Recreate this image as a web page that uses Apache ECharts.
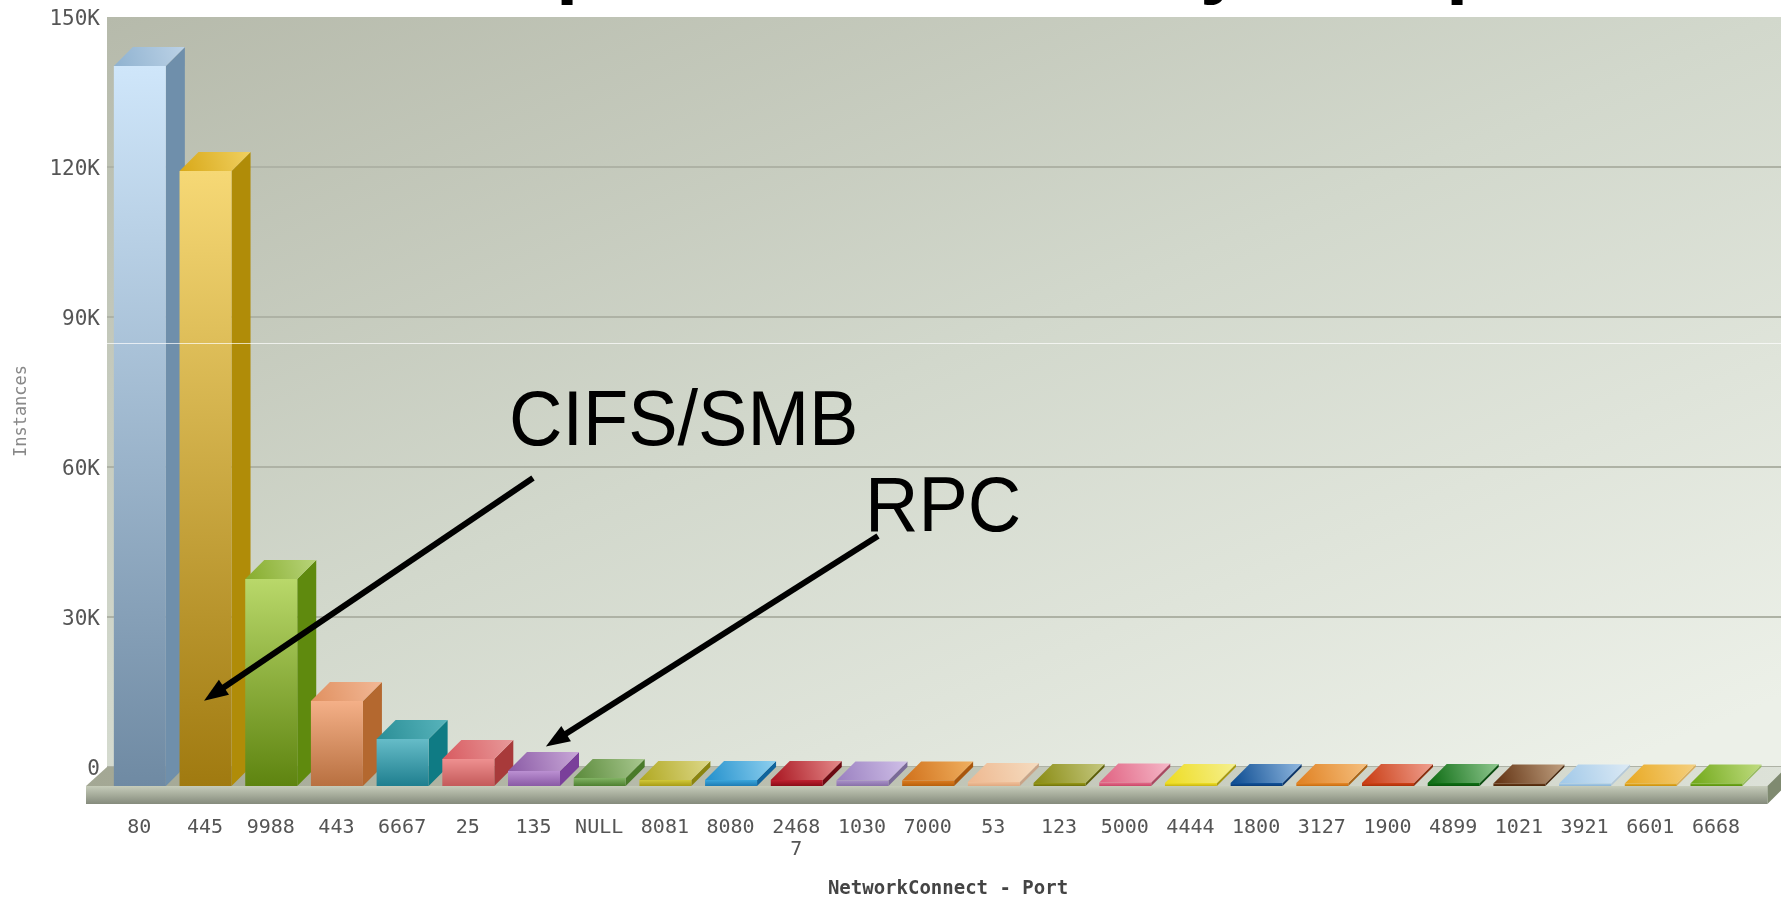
<!DOCTYPE html>
<html>
<head>
<meta charset="utf-8">
<title>NetworkConnect - Port</title>
<script src="https://cdn.jsdelivr.net/npm/echarts@6/dist/echarts.min.js"></script>
<style>
  html, body { margin: 0; padding: 0; background: #ffffff; }
  #chart { width: 1781px; height: 898px; }
</style>
</head>
<body>
<div id="chart"></div>
<script>
// data
const ports = ['80', '445', '9988', '443', '6667', '25', '135', 'NULL', '8081', '8080', '24687', '1030', '7000',
  '53', '123', '5000', '4444', '1800', '3127', '1900', '4899', '1021', '3921', '6601', '6668']
const instances = [144000, 123000, 41400, 17000, 9400, 5400, 3000, 1600, 1200, 1200, 1200, 1100, 1100,
  800, 600, 700, 600, 600, 600, 600, 600, 500, 500, 500, 500]
const yTickStep = 30000
const yMax = 150000

// colours per bar: front top, front bottom, side, roof dark, roof light
const frontTop = ['#cfe6fa', '#f6d875', '#b9d86a', '#f4b088', '#66bcc8', '#ee9090', '#bb90d2', '#82b464', '#d2c838',
  '#3aa6dc', '#c02030', '#a890c8', '#dc7c20', '#f0c09a', '#989a18', '#e86c8c', '#f0e028', '#14559c', '#e68a2a',
  '#d04418', '#107416', '#6c3a16', '#a8cdea', '#eab02a', '#78b020']
const frontBottom = ['#6f8aa3', '#a07a10', '#5e8410', '#b87040', '#1f7f8f', '#c45a5a', '#8a5aa5', '#4e8030', '#a89c14',
  '#1c7cb4', '#8c0c18', '#8870a8', '#b8600c', '#e0a880', '#70720a', '#c84868', '#c8b410', '#0a3c78', '#c86c10',
  '#ac300a', '#08560c', '#4c280c', '#8cb4d4', '#c89010', '#5a9010']
const sideColor = ['#6f8fab', '#b08c08', '#5f8a0e', '#b4682f', '#0f7b84', '#a83a3a', '#7a3f9a', '#4a7a2a', '#8a8410',
  '#10649c', '#6c0a12', '#7a6a98', '#a8560c', '#c8a488', '#5c5e08', '#a84860', '#a89a10', '#0a3468', '#a86418',
  '#8c3010', '#0a4c10', '#4a2a10', '#b4c8d8', '#d8b060', '#98bc60']
const roofDark = ['#8fb2d0', '#d8a818', '#86ac2c', '#e09060', '#2a8e96', '#d85a60', '#8a5aa5', '#5a8a3a', '#b0a820',
  '#2290cc', '#a8141f', '#9a80c0', '#d0701a', '#eeb890', '#888a10', '#e06080', '#eedc20', '#0a4a90', '#e08020',
  '#c83a10', '#0a6a10', '#603010', '#a0c8e8', '#e8a820', '#70a818']
const roofLight = ['#bcd2e6', '#f0d060', '#b8d47a', '#f2b896', '#58b4bc', '#e89a9a', '#c9a8d8', '#a9c890', '#ddd88a',
  '#8fd0ef', '#e58a8a', '#d0c0e8', '#f0b060', '#f5dcc0', '#c5c880', '#f5b8c8', '#f5f090', '#90b8e0', '#f5c080',
  '#f0a090', '#90c890', '#c0a080', '#dceaf5', '#f5d080', '#c0dc80']

const BAR_W = 52
const DEPTH = 19

const vGrad = (a, b) => new echarts.graphic.LinearGradient(0, 0, 0, 1, [
  { offset: 0, color: a },
  { offset: 1, color: b }
])

// 3d box: the axis is the back wall, the front face sits DEPTH lower and to the left
const renderBar = (params, api) => {
  const i = api.value(0)
  const base = api.coord([i, 0])
  const top = api.coord([i, api.value(1)])
  const x0 = base[0] - BAR_W / 2
  const x1 = x0 + BAR_W
  const yb = base[1] + DEPTH
  const yt = top[1] + DEPTH
  return {
    type: 'group',
    children: [
      {
        type: 'polygon',
        shape: { points: [[x1, yb], [x1 + DEPTH, yb - DEPTH], [x1 + DEPTH, yt - DEPTH], [x1, yt]] },
        style: { fill: sideColor[i] }
      },
      {
        type: 'polygon',
        shape: { points: [[x0, yt], [x1, yt], [x1 + DEPTH, yt - DEPTH], [x0 + DEPTH, yt - DEPTH]] },
        style: {
          fill: new echarts.graphic.LinearGradient(0, 1, 1, 0, [
            { offset: 0, color: roofDark[i] },
            { offset: 1, color: roofLight[i] }
          ])
        }
      },
      {
        type: 'rect',
        shape: { x: x0, y: yt, width: BAR_W, height: yb - yt },
        style: { fill: vGrad(frontTop[i], frontBottom[i]) }
      }
    ]
  }
}

// platform under the bars
const renderFloor = (params, api) => {
  const first = api.coord([0, 0])
  const last = api.coord([ports.length - 1, 0])
  const wallX = params.coordSys.x
  const y = first[1]
  const right = last[0] + 51
  const h = 18
  return {
    type: 'group',
    children: [
      {
        type: 'polygon',
        shape: { points: [[wallX - 21, y + DEPTH], [wallX, y], [right + 19, y], [right, y + DEPTH]] },
        style: {
          fill: new echarts.graphic.LinearGradient(0, 0, 1, 0, [
            { offset: 0, color: '#a3a794' },
            { offset: 1, color: '#dde2d8' }
          ])
        }
      },
      {
        type: 'rect',
        shape: { x: wallX - 21, y: y + DEPTH, width: right - wallX + 21, height: h },
        style: { fill: vGrad('#c6ccba', '#858b7c') }
      },
      {
        type: 'polygon',
        shape: { points: [[right, y + DEPTH], [right + 19, y], [right + 19, y + h], [right, y + DEPTH + h]] },
        style: { fill: '#7f8a70' }
      }
    ]
  }
}

const chart = echarts.init(document.getElementById('chart'))

const option = {
  backgroundColor: '#ffffff',
  animation: false,
  grid: {
    show: true,
    left: 107,
    top: 17,
    width: 1708,
    height: 750,
    borderWidth: 0,
    outerBoundsMode: 'none',
    backgroundColor: new echarts.graphic.LinearGradient(0, 0, 0.28, 1.56, [
      { offset: 0, color: '#b6baab' },
      { offset: 0.5, color: '#d2d8cc' },
      { offset: 1, color: '#ecf0e8' }
    ])
  },
  xAxis: {
    type: 'category',
    data: ports,
    max: ports.length,
    name: 'NetworkConnect - Port',
    nameLocation: 'middle',
    nameGap: 113,
    nameTextStyle: {
      color: '#444',
      fontFamily: 'DejaVu Sans Mono',
      fontSize: 19,
      fontWeight: 'bold',
      padding: [0, 26, 0, 0]
    },
    axisLine: { show: false },
    axisTick: { show: false },
    splitLine: { show: false },
    axisLabel: {
      interval: 0,
      margin: 50,
      color: '#555',
      fontFamily: 'DejaVu Sans Mono',
      fontSize: 20,
      lineHeight: 22,
      width: 56,
      overflow: 'break',
      hideOverlap: false,
      padding: [0, 1, 0, 0]
    }
  },
  yAxis: {
    type: 'value',
    min: 0,
    max: yMax,
    interval: yTickStep,
    name: 'Instances',
    nameLocation: 'middle',
    nameGap: 77,
    nameTextStyle: {
      color: '#888',
      fontFamily: 'DejaVu Sans Mono',
      fontSize: 17,
      padding: [0, 38, 0, 0]
    },
    axisLine: { show: false },
    axisTick: { show: false },
    axisLabel: {
      margin: 7,
      color: '#555',
      fontFamily: 'DejaVu Sans Mono',
      fontSize: 21,
      verticalAlign: 'top',
      lineHeight: 6,
      formatter: (v) => (v === 0 ? '0' : v / 1000 + 'K')
    },
    splitLine: { showMaxLine: false, lineStyle: { color: '#aeb2a5', width: 2 } }
  },
  series: [
    {
      name: 'floor',
      type: 'custom',
      clip: false,
      silent: true,
      z: 2,
      data: [[0, 0]],
      encode: { x: 0, y: 1 },
      renderItem: renderFloor
    },
    {
      name: 'Instances',
      type: 'custom',
      clip: false,
      z: 3,
      data: ports.map((p, i) => [i, instances[i]]),
      encode: { x: 0, y: 1 },
      renderItem: renderBar,
      // the two callouts pasted over the chart
      markLine: {
        silent: true,
        animation: false,
        z: 10,
        symbol: ['none', 'triangle'],
        symbolSize: [18, 24],
        label: { show: false },
        lineStyle: { color: '#000', width: 6, type: 'solid' },
        data: [
          [{ x: 533, y: 478 }, { x: 214, y: 694 }],
          [{ x: 878, y: 536 }, { x: 556, y: 740 }]
        ]
      }
    }
  ],
  graphic: [
    {
      type: 'text',
      x: 509,
      y: 384,
      z: 20,
      scaleY: 1.06,
      style: { text: 'CIFS/SMB', fill: '#000', font: '74px "Liberation Sans"' }
    },
    {
      type: 'text',
      x: 865,
      y: 470,
      z: 20,
      scaleY: 1.06,
      style: { text: 'RPC', fill: '#000', font: '74px "Liberation Sans"' }
    },
    // seam in the original image
    {
      type: 'rect',
      z: 20,
      shape: { x: 107, y: 343, width: 1674, height: 1 },
      style: { fill: 'rgba(255,255,255,0.7)' }
    },
    // what is left of the cropped title
    { type: 'text', x: 556, y: 6, z: 20, style: { text: 'p', fill: '#000', font: 'bold 80px "Liberation Sans"', verticalAlign: 'bottom' } },
    { type: 'text', x: 1200, y: 6, z: 20, style: { text: 'y', fill: '#000', font: 'bold 80px "Liberation Sans"', verticalAlign: 'bottom' } },
    { type: 'text', x: 1446, y: 6, z: 20, style: { text: 'p', fill: '#000', font: 'bold 80px "Liberation Sans"', verticalAlign: 'bottom' } }
  ]
}

chart.setOption(option)
</script>
</body>
</html>
